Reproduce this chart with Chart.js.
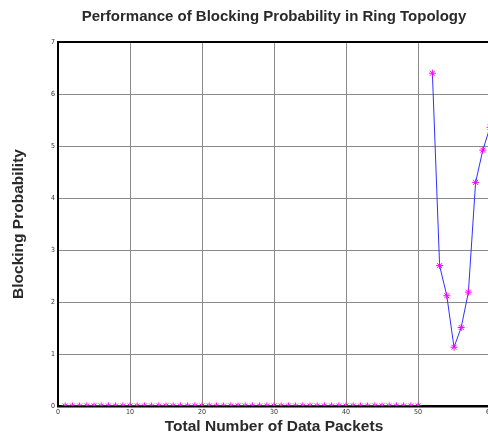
<!DOCTYPE html>
<html>
<head>
<meta charset="utf-8">
<script src="https://cdn.jsdelivr.net/npm/chart.js@4"></script>
<style>
  html, body { margin: 0; padding: 0; background: #ffffff; }
  #wrap { width: 488px; height: 436px; overflow: hidden; position: relative; }
  #wrap canvas { position: absolute; left: 0; top: 0; }
</style>
</head>
<body>
<div id="wrap"><canvas id="blockingChart" width="520" height="436"></canvas></div>
<script>
(function () {
  'use strict';

  // total number of data packets (x)
  var packetCounts = [
    1, 2, 3, 4, 5, 6, 7, 8, 9, 10,
    11, 12, 13, 14, 15, 16, 17, 18, 19, 20,
    21, 22, 23, 24, 25, 26, 27, 28, 29, 30,
    31, 32, 33, 34, 35, 36, 37, 38, 39, 40,
    41, 42, 43, 44, 45, 46, 47, 48, 49, 50,
    51, 52, 53, 54, 55, 56, 57, 58, 59, 60
  ];

  // blocking probability (y), nothing plotted at 51
  var blockingProb = [
    0, 0, 0, 0, 0, 0, 0, 0, 0, 0,
    0, 0, 0, 0, 0, 0, 0, 0, 0, 0,
    0, 0, 0, 0, 0, 0, 0, 0, 0, 0,
    0, 0, 0, 0, 0, 0, 0, 0, 0, 0,
    0, 0, 0, 0, 0, 0, 0, 0, 0, 0,
    null, 6.40, 2.70, 2.12, 1.13, 1.51, 2.19, 4.30, 4.92, 5.36
  ];

  var xTicks = [0, 10, 20, 30, 40, 50, 60];
  var yTicks = [0, 1, 2, 3, 4, 5, 6, 7];

  var tickFont = { family: "'Liberation Sans Narrow', 'DejaVu Sans Condensed', sans-serif", size: 7 };
  var labelFont = { family: "'Liberation Sans', Arial, sans-serif", size: 15.5, weight: 'bold' };

  function buildPoints() {
    return packetCounts.map(function (x, i) {
      return { x: x, y: blockingProb[i] };
    });
  }

  function gridColor(ctx) {
    return ctx.tick && ctx.tick.value === 7 ? '#000000' : '#8a8a8a';
  }
  function gridWidth(ctx) {
    return ctx.tick && ctx.tick.value === 7 ? 2 : 1;
  }

  var canvas = document.getElementById('blockingChart');

  new Chart(canvas, {
    type: 'line',
    data: {
      datasets: [{
        label: 'Blocking Probability',
        data: buildPoints(),
        borderColor: '#3030ff',
        borderWidth: 1,
        pointStyle: 'star',
        pointRadius: 3.5,
        pointBorderWidth: 1,
        pointBorderColor: '#ff00ff',
        pointBackgroundColor: '#ff00ff',
        spanGaps: false,
        tension: 0
      }]
    },
    options: {
      responsive: false,
      animation: false,
      layout: { padding: { left: 0, right: 30, top: 0, bottom: 0 } },
      plugins: {
        legend: { display: false },
        tooltip: { enabled: false },
        title: {
          display: true,
          text: 'Performance of Blocking Probability in Ring Topology',
          fullSize: false,
          color: '#2a2a2a',
          font: { family: "'Liberation Sans', Arial, sans-serif", size: 15, weight: 'bold', lineHeight: '16px' },
          padding: { top: 9, bottom: 17 }
        }
      },
      scales: {
        x: {
          type: 'linear',
          min: 0,
          max: 60,
          afterFit: function (scale) { scale.height = 30; },
          afterBuildTicks: function (scale) {
            scale.ticks = xTicks.map(function (v) { return { value: v }; });
          },
          grid: { color: '#8a8a8a', lineWidth: 1, drawTicks: false },
          border: { color: '#000000', width: 2.5 },
          ticks: { font: tickFont, color: '#333333', padding: 2, maxRotation: 0, autoSkip: false },
          title: {
            display: true,
            text: 'Total Number of Data Packets',
            color: '#2a2a2a',
            font: labelFont,
            padding: { top: 0, bottom: 0 }
          }
        },
        y: {
          min: 0,
          max: 7,
          afterFit: function (scale) { scale.width = 58; },
          afterBuildTicks: function (scale) {
            scale.ticks = yTicks.map(function (v) { return { value: v }; });
          },
          grid: { color: gridColor, lineWidth: gridWidth, drawTicks: false },
          border: { color: '#000000', width: 2 },
          ticks: { font: tickFont, color: '#333333', padding: 3 },
          title: {
            display: true,
            text: 'Blocking Probability',
            color: '#2a2a2a',
            font: labelFont,
            padding: { top: 9.5, bottom: 0 }
          }
        }
      }
    }
  });
}());
</script>
</body>
</html>
